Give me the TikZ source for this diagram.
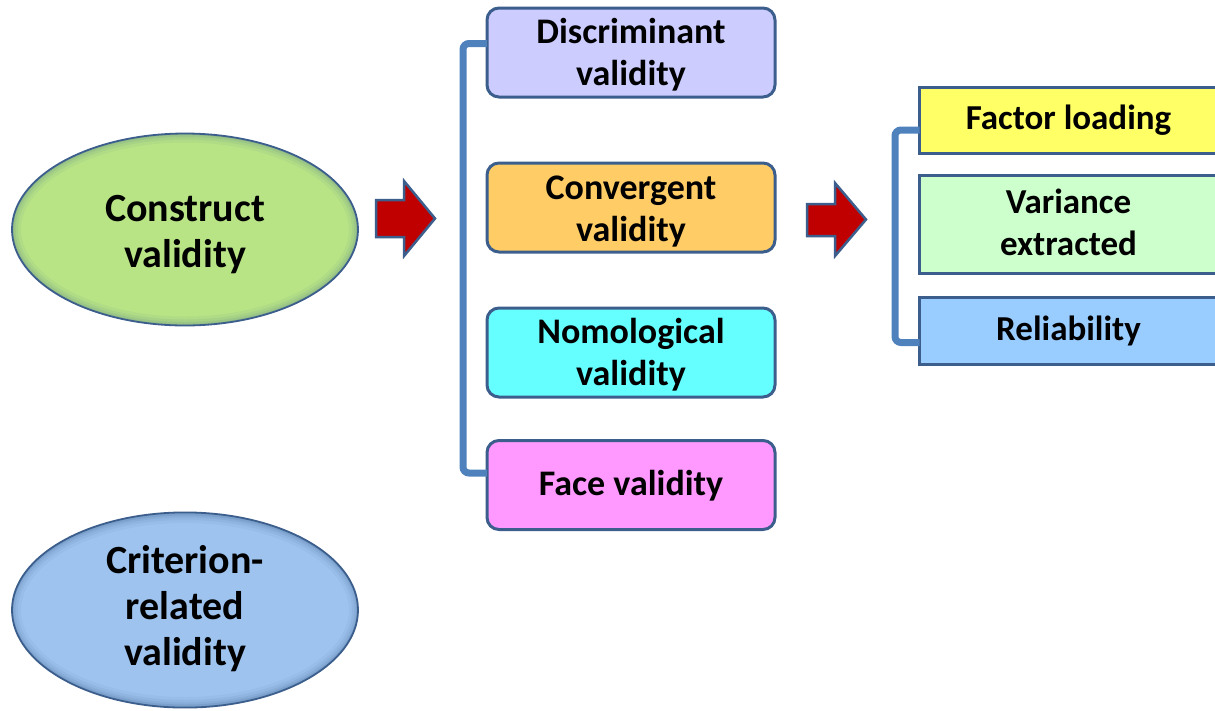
\documentclass[tikz,border=0pt]{standalone}
\usepackage{fontspec}
\setmainfont{Carlito}
\usetikzlibrary{shapes.geometric,calc}
\definecolor{edge}{HTML}{3C5E8C}
\definecolor{brace}{HTML}{4F81BD}
\definecolor{arrowred}{HTML}{C00000}
\definecolor{cgreen}{HTML}{B8E486}
\definecolor{cblue}{HTML}{9DC3EE}
\definecolor{cdisc}{HTML}{CCCCFF}
\definecolor{cconv}{HTML}{FFCC66}
\definecolor{cnomo}{HTML}{66FFFF}
\definecolor{cface}{HTML}{FF99FF}
\definecolor{cfact}{HTML}{FFFF66}
\definecolor{cvari}{HTML}{CCFFCC}
\definecolor{creli}{HTML}{99CCFF}
% centred lines of text, lowered by #1 without changing the box size
\newcommand\lines[2]{\raisebox{-#1}[\height][\depth]{\begin{tabular}{@{}c@{}}#2\end{tabular}}}
\tikzset{
  oval/.style={ellipse, draw=edge, line width=1.8pt, minimum width=346pt, minimum height=192pt,
    inner sep=0pt, font=\fontsize{40}{46}\selectfont\bfseries,
    path picture={
      \foreach \w/\o in {18/0.06,12/0.08,7/0.1,3/0.14}
        \draw[edge, line width=\w pt, opacity=\o]
          (path picture bounding box.center) ellipse [x radius=173pt, y radius=96pt];
    }},
  midbox/.style={draw=edge, line width=3pt, rounded corners=12pt, minimum width=288pt,
    minimum height=89pt, inner sep=0pt, font=\fontsize{36}{42}\selectfont\bfseries},
  rightbox/.style={draw=edge, line width=3pt, minimum width=310pt, anchor=west,
    inner sep=0pt, font=\fontsize{35}{42}\selectfont\bfseries},
  bracket/.style={draw=brace, line width=7pt, rounded corners=6pt},
  blockarrow/.style={fill=arrowred, draw=edge, line width=2.5pt, line join=miter}
}
\begin{document}
\begin{tikzpicture}[x=1pt,y=-1pt]
\useasboundingbox (0,0) rectangle (1215,710);

% left ovals
\node[oval, fill=cgreen] (construct) at (185,229.5) {\lines{6pt}{Construct\\validity}};
\node[oval, fill=cblue, minimum height=194pt] (criterion) at (185,610) {\lines{0pt}{Criterion-\\related\\validity}};

% middle column
\node[midbox, fill=cdisc] (disc) at (631,52.5) {\lines{4pt}{Discriminant\\validity}};
\node[midbox, fill=cconv] (conv) at (631,207.5) {\lines{5pt}{Convergent\\validity}};
\node[midbox, fill=cnomo] (nomo) at (631,352.5) {\lines{3.5pt}{Nomological\\validity}};
\node[midbox, fill=cface] (face) at (631,485) {\lines{2pt}{Face validity}};

% right column (runs past the right edge)
\node[rightbox, fill=cfact, minimum height=66pt] (fact) at (918,120) {\hspace*{-6pt}\lines{1.5pt}{Factor loading}\hspace*{6pt}};
\node[rightbox, fill=cvari, minimum height=98pt] (vari) at (918,224) {\hspace*{-6pt}\lines{2pt}{Variance\\extracted}\hspace*{6pt}};
\node[rightbox, fill=creli, minimum height=67pt] (reli) at (918,330.5) {\hspace*{-6pt}\lines{1.5pt}{Reliability}\hspace*{6pt}};

% brackets
\coordinate (b1) at (463,0);
\draw[bracket] ($(disc.west)+(1.5,-9)$) -- (b1 |- {$(disc.west)+(0,-9)$}) -- (b1 |- {$(face.west)+(0,-12)$}) -- ($(face.west)+(1.5,-12)$);
\coordinate (b2) at (895,0);
\draw[bracket] ($(fact.west)+(1.5,10)$) -- (b2 |- {$(fact.west)+(0,10)$}) -- (b2 |- {$(reli.west)+(0,12)$}) -- ($(reli.west)+(1.5,12)$);

% block arrows
\draw[blockarrow] (376,200) -- (404,200) -- (404,181) -- (435,218.5) -- (404,256) -- (404,237) -- (376,237) -- cycle;
\draw[blockarrow] (807,204) -- (835,204) -- (835,183) -- (866,219.5) -- (835,256) -- (835,236) -- (807,236) -- cycle;
\end{tikzpicture}
\end{document}
